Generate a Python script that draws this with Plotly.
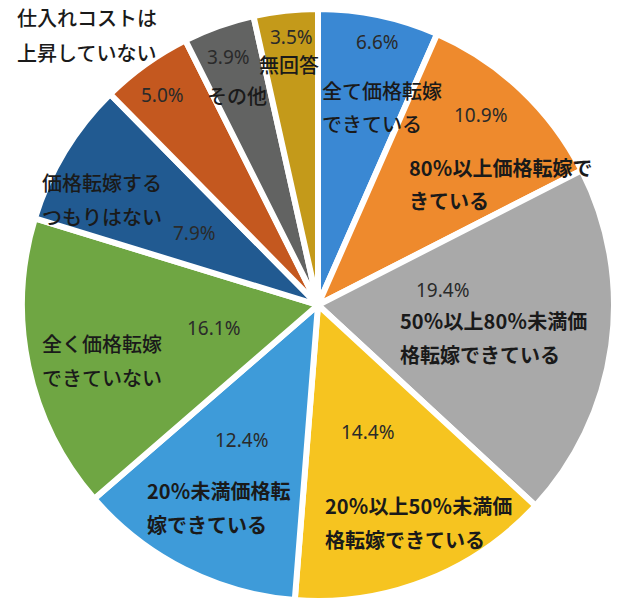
import plotly.graph_objects as go

# Survey breakdown: how far rising purchase costs have been passed on to prices
label_lines = [
    ["全て価格転嫁", "できている"],
    ["80％以上価格転嫁で", "きている"],
    ["50％以上80％未満価", "格転嫁できている"],
    ["20％以上50％未満価", "格転嫁できている"],
    ["20％未満価格転", "嫁できている"],
    ["全く価格転嫁", "できていない"],
    ["価格転嫁する", "つもりはない"],
    ["仕入れコストは", "上昇していない"],
    ["その他"],
    ["無回答"],
]
categories = ["".join(lines) for lines in label_lines]
shares = [6.6, 10.9, 19.4, 14.4, 12.4, 16.1, 7.9, 5.0, 3.9, 3.5]
colors = ["#3a88d3", "#ee8a2d", "#a9a9a9", "#f6c420", "#3e9bd9",
          "#6fa643", "#215a91", "#c4581f", "#626362", "#c49a1a"]
bold = [False, True, True, True, True, False, False, False, False, False]

W, H = 624, 609
cx, cy, r = 318, 305, 296

# label placement (pixel positions, top-left origin)
pct_pos = [(377, 42), (481, 115), (443, 290), (368, 432), (242, 440),
           (214, 328), (194, 233), (162, 95), (228, 57), (291, 37)]
name_pos = [(320, 90), (407, 167), (398, 320), (323, 505), (145, 490),
            (40, 343), (40, 182), (15, 18), (237, 95), (289, 65)]
name_anchor = ["left", "left", "left", "left", "left",
               "left", "left", "left", "center", "center"]
line_gap = 34

fig = go.Figure(go.Pie(
    labels=categories,
    values=shares,
    sort=False,
    direction="clockwise",
    rotation=0,
    textinfo="none",
    hoverinfo="label+percent",
    marker=dict(colors=colors, line=dict(color="white", width=6)),
    domain=dict(x=[(cx - r) / W, (cx + r) / W],
                y=[(H - cy - r) / H, (H - cy + r) / H]),
    showlegend=False,
))

annotations = []
for v, (px, py) in zip(shares, pct_pos):
    annotations.append(dict(
        text=f"{v:.1f}%", x=px / W, y=1 - py / H, xref="paper", yref="paper",
        xanchor="center", yanchor="middle", showarrow=False,
        font=dict(family="Noto Sans", size=19, color="#2a2a2a"),
    ))
for lines, (px, py), anc, b in zip(label_lines, name_pos, name_anchor, bold):
    for i, line in enumerate(lines):
        annotations.append(dict(
            text=line,
            x=px / W, y=1 - (py + i * line_gap) / H,
            xref="paper", yref="paper", xanchor=anc, yanchor="middle",
            showarrow=False,
            font=dict(family="Noto Sans CJK JP", size=20, color="#1a1a1a",
                      weight=700 if b else 500),
        ))

fig.update_layout(
    width=W, height=H,
    margin=dict(l=0, r=0, t=0, b=0),
    paper_bgcolor="white", plot_bgcolor="white",
    annotations=annotations,
)

fig.write_html("out.html")
